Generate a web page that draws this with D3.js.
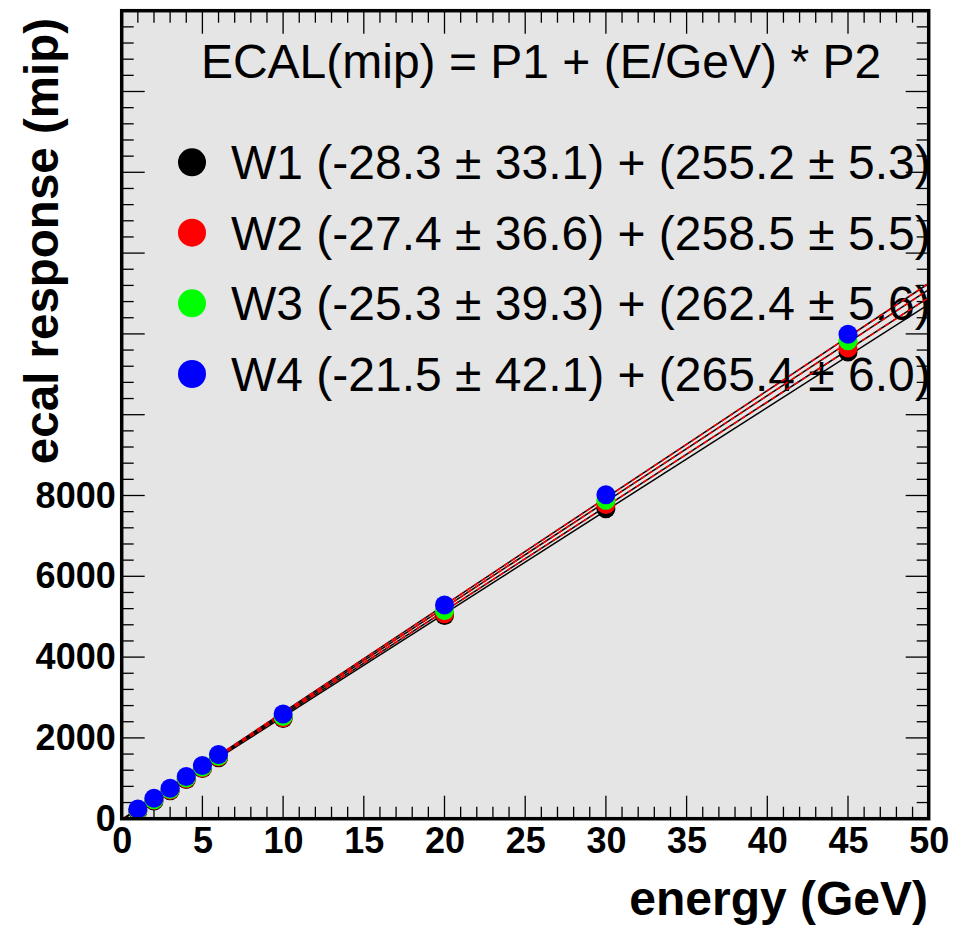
<!DOCTYPE html>
<html><head><meta charset="utf-8">
<script src="https://cdn.jsdelivr.net/npm/d3@7"></script>
<style>body{margin:0;background:#fff}svg{display:block}</style>
</head><body>
<svg id="c" width="974" height="926"></svg>
<script>
const energies = [1, 2, 3, 4, 5, 6, 10, 20, 30, 45];
const seriesNames = ["W1", "W2", "W3", "W4"];
const seriesColors = ["#000000", "#ff0000", "#00ff00", "#0000ff"];
const w1 = [190, 440, 690, 970, 1240, 1510, 2480, 5030, 7670, 11550];
const w2 = [200, 455, 705, 985, 1255, 1525, 2500, 5070, 7775, 11650];
const w3 = [215, 470, 720, 1005, 1275, 1545, 2530, 5150, 7880, 11830];
const w4 = [241, 504, 753, 1043, 1317, 1590, 2590, 5290, 8020, 11990];
const p1 = [-28.3, -27.4, -25.3, -21.5];
const p1Err = [33.1, 36.6, 39.3, 42.1];
const p2 = [255.2, 258.5, 262.4, 265.4];
const p2Err = [5.3, 5.5, 5.6, 6.0];
const xTickLabels = ["0","5","10","15","20","25","30","35","40","45","50"];
const yTickLabels = ["0","2000","4000","6000","8000"];
const seriesValues = [w1, w2, w3, w4];

const svg = d3.select("#c");
const L = 121.7, R = 928.7, T = 10.7, B = 818.7;
const x = d3.scaleLinear().domain([0, 50]).range([L, R]);
const y = d3.scaleLinear().domain([0, 20000]).range([B, T]);
const font = "'Liberation Sans', Arial, Helvetica, sans-serif";

svg.append("defs").append("clipPath").attr("id", "clip")
  .append("rect").attr("x", L).attr("y", T).attr("width", R - L).attr("height", B - T);

svg.append("rect").attr("x", L).attr("y", T).attr("width", R - L).attr("height", B - T)
  .attr("fill", "#e5e5e5");

// ticks
const tk = svg.append("g").attr("stroke", "#000").attr("stroke-width", 1.3);
const xMinor = d3.range(0, 51, 1), yMinor = d3.range(0, 20001, 400);
xMinor.forEach(v => {
  const len = v % 5 === 0 ? 23 : 12;
  tk.append("line").attr("x1", x(v)).attr("x2", x(v)).attr("y1", B).attr("y2", B - len);
  tk.append("line").attr("x1", x(v)).attr("x2", x(v)).attr("y1", T).attr("y2", T + len);
});
yMinor.forEach(v => {
  const len = v % 2000 === 0 ? 23 : 12;
  tk.append("line").attr("y1", y(v)).attr("y2", y(v)).attr("x1", L).attr("x2", L + len);
  tk.append("line").attr("y1", y(v)).attr("y2", y(v)).attr("x1", R).attr("x2", R - len);
});

// tick labels via axes (no lines)
const xAxis = d3.axisBottom(x).tickValues(xTickLabels.map(Number)).tickSize(0).tickPadding(9)
  .tickFormat((d, i) => xTickLabels[i]);
const gx = svg.append("g").attr("transform", `translate(0,${B})`).call(xAxis);
gx.select(".domain").remove();
gx.selectAll("text").attr("font-family", font).attr("font-weight", "bold").attr("font-size", 36).attr("fill", "#000");

const yAxis = d3.axisLeft(y).tickValues(yTickLabels.map(Number)).tickSize(0).tickPadding(6)
  .tickFormat((d, i) => yTickLabels[i]);
const gy = svg.append("g").attr("transform", `translate(${L},0)`).call(yAxis);
gy.select(".domain").remove();
gy.selectAll("text").attr("font-family", font).attr("font-weight", "bold").attr("font-size", 36).attr("fill", "#000");

// axis titles
svg.append("text").attr("x", 928).attr("y", 915).attr("text-anchor", "end")
  .attr("font-family", font).attr("font-weight", "bold").attr("font-size", 48).text("energy (GeV)");
svg.append("text").attr("transform", "translate(58,18) rotate(-90)").attr("text-anchor", "end")
  .attr("font-family", font).attr("font-weight", "bold").attr("font-size", 47.5).text("ecal response (mip)");

// legend
svg.append("text").attr("x", 541).attr("y", 78).attr("text-anchor", "middle")
  .attr("font-family", font).attr("font-size", 48).text("ECAL(mip) = P1 + (E/GeV) * P2");
const legY = [162.3, 232.7, 303.3, 374];
seriesNames.forEach((n, i) => {
  svg.append("circle").attr("cx", 192).attr("cy", legY[i]).attr("r", 14).attr("fill", seriesColors[i]);
  const t = svg.append("text").attr("x", 231).attr("y", legY[i] + 17)
    .attr("font-family", font).attr("font-size", 48);
  t.text(`${n} (${p1[i].toFixed(1)} \u00b1 ${p1Err[i].toFixed(1)}) + (${p2[i].toFixed(1)} \u00b1 ${p2Err[i].toFixed(1)})`);
});

// fit lines
const plot = svg.append("g").attr("clip-path", "url(#clip)");
const line = d3.line().x(d => x(d[0])).y(d => y(d[1]));
p1.forEach((a, i) => {
  const pts = [0, 50].map(e => [e, a + p2[i] * e]);
  plot.append("path").attr("d", line(pts)).attr("stroke", "#000").attr("stroke-width", 1.5).attr("fill", "none");
  if (i > 0) plot.append("path").attr("d", line(pts)).attr("stroke", "#ff0000").attr("stroke-width", 1.5)
    .attr("stroke-dasharray", "5,4").attr("fill", "none");
});

// points
seriesValues.forEach((vals, i) => {
  plot.selectAll(null).data(energies.map((e, j) => [e, vals[j]])).enter().append("circle")
    .attr("cx", d => x(d[0])).attr("cy", d => y(d[1])).attr("r", 9.5).attr("fill", seriesColors[i]);
});

// frame
svg.append("rect").attr("x", L).attr("y", T).attr("width", R - L).attr("height", B - T)
  .attr("fill", "none").attr("stroke", "#000").attr("stroke-width", 3.5);
</script>
</body></html>
